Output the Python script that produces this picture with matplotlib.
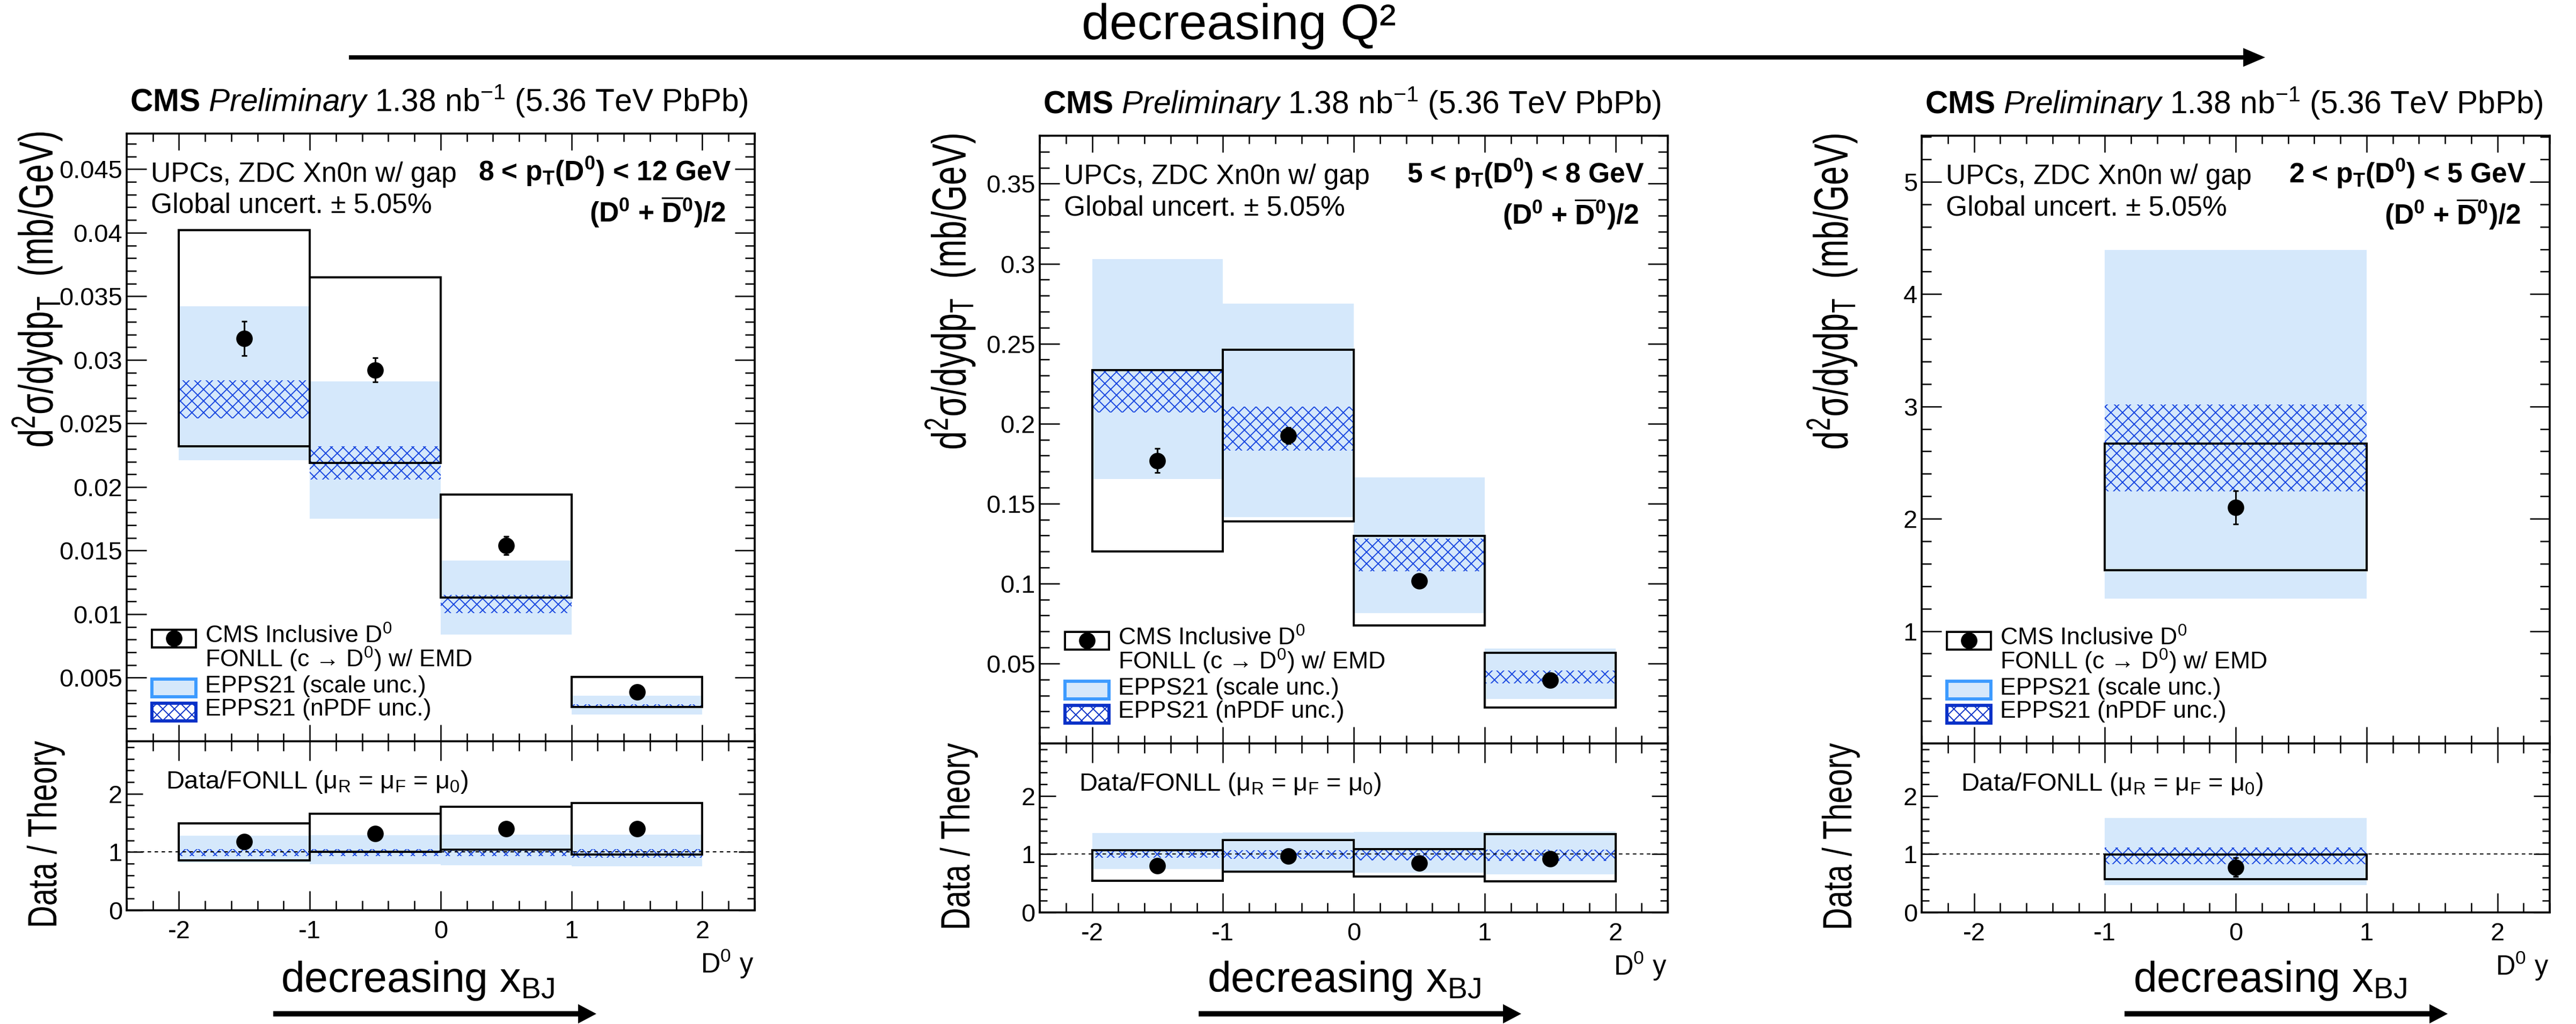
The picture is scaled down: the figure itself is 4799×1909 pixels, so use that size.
import numpy as np
import matplotlib
matplotlib.use("Agg")
import matplotlib.pyplot as plt
from matplotlib.ticker import MultipleLocator, FuncFormatter
from matplotlib.patches import Rectangle, PathPatch, FancyArrow
from matplotlib.textpath import TextPath
from matplotlib.transforms import Affine2D
from matplotlib.lines import Line2D

plt.rcParams['font.family'] = ['Liberation Sans', 'DejaVu Sans']
plt.rcParams['mathtext.fontset'] = 'custom'
plt.rcParams['mathtext.rm'] = 'Liberation Sans'
plt.rcParams['mathtext.it'] = 'Liberation Sans:italic'
plt.rcParams['mathtext.bf'] = 'Liberation Sans:bold'
plt.rcParams['mathtext.default'] = 'regular'
plt.rcParams['axes.unicode_minus'] = False
plt.rcParams['hatch.linewidth'] = 1.1

# ---------------- data ----------------
pt_labels = [r"8 < p$_{\mathbf{T}}$(D$^{\mathbf{0}}$) < 12 GeV",
             r"5 < p$_{\mathbf{T}}$(D$^{\mathbf{0}}$) < 8 GeV",
             r"2 < p$_{\mathbf{T}}$(D$^{\mathbf{0}}$) < 5 GeV"]
y_edges = [[-2, -1, 0, 1, 2], [-2, -1, 0, 1, 2], [-1, 1]]

# 8 < pT < 12 GeV
data1 = [0.0317, 0.0292, 0.0154, 0.0039]
stat1 = [0.00135, 0.00095, 0.0007, 0.0003]
syst_lo1 = [0.0232, 0.0219, 0.0113, 0.0027]
syst_hi1 = [0.0402, 0.0365, 0.0194, 0.00505]
scale_lo1 = [0.0221, 0.0175, 0.0084, 0.0021]
scale_hi1 = [0.0342, 0.0283, 0.0142, 0.0036]
npdf_lo1 = [0.0254, 0.0206, 0.0101, 0.0026]
npdf_hi1 = [0.0284, 0.0232, 0.0115, 0.0029]
r_data1 = [1.18, 1.32, 1.40, 1.40]
r_err1 = [0.05, 0.04, 0.06, 0.06]
r_syst_lo1 = [0.86, 1.00, 1.04, 0.96]
r_syst_hi1 = [1.49, 1.66, 1.78, 1.84]
r_scale_lo1 = [0.82, 0.79, 0.77, 0.755]
r_scale_hi1 = [1.28, 1.29, 1.30, 1.30]
r_npdf_lo1 = [0.93, 0.93, 0.93, 0.90]
r_npdf_hi1 = [1.05, 1.05, 1.05, 1.05]

# 5 < pT < 8 GeV
data2 = [0.1768, 0.1926, 0.1016, 0.0396]
stat2 = [0.0075, 0.005, 0.0025, 0.002]
syst_lo2 = [0.120, 0.139, 0.0739, 0.0226]
syst_hi2 = [0.2334, 0.2463, 0.1297, 0.0567]
scale_lo2 = [0.1653, 0.1416, 0.0815, 0.0277]
scale_hi2 = [0.303, 0.275, 0.1662, 0.0592]
npdf_lo2 = [0.207, 0.183, 0.1076, 0.0374]
npdf_hi2 = [0.2334, 0.2107, 0.1281, 0.0456]
r_data2 = [0.80, 0.967, 0.85, 0.925]
r_err2 = [0.04, 0.03, 0.03, 0.05]
r_syst_lo2 = [0.54, 0.70, 0.62, 0.53]
r_syst_hi2 = [1.066, 1.246, 1.085, 1.34]
r_scale_lo2 = [0.744, 0.695, 0.68, 0.652]
r_scale_hi2 = [1.367, 1.374, 1.384, 1.393]
r_npdf_lo2 = [0.94, 0.925, 0.89, 0.88]
r_npdf_hi2 = [1.056, 1.066, 1.07, 1.08]

# 2 < pT < 5 GeV
data3 = [2.102]
stat3 = [0.148]
syst_lo3 = [1.54]
syst_hi3 = [2.668]
scale_lo3 = [1.288]
scale_hi3 = [4.392]
npdf_lo3 = [2.243]
npdf_hi3 = [3.019]
r_data3 = [0.777]
r_err3 = [0.16]
r_syst_lo3 = [0.57]
r_syst_hi3 = [0.99]
r_scale_lo3 = [0.472]
r_scale_hi3 = [1.62]
r_npdf_lo3 = [0.826]
r_npdf_hi3 = [1.11]

panels = [
    (data1, stat1, syst_lo1, syst_hi1, scale_lo1, scale_hi1, npdf_lo1, npdf_hi1,
     r_data1, r_err1, r_syst_lo1, r_syst_hi1, r_scale_lo1, r_scale_hi1, r_npdf_lo1, r_npdf_hi1),
    (data2, stat2, syst_lo2, syst_hi2, scale_lo2, scale_hi2, npdf_lo2, npdf_hi2,
     r_data2, r_err2, r_syst_lo2, r_syst_hi2, r_scale_lo2, r_scale_hi2, r_npdf_lo2, r_npdf_hi2),
    (data3, stat3, syst_lo3, syst_hi3, scale_lo3, scale_hi3, npdf_lo3, npdf_hi3,
     r_data3, r_err3, r_syst_lo3, r_syst_hi3, r_scale_lo3, r_scale_hi3, r_npdf_lo3, r_npdf_hi3),
]
y_max = [0.0478, 0.380, 5.41]
y_major = [0.005, 0.05, 1.0]
y_minor = [0.001, 0.01, 0.2]

# ---------------- layout (pixels of the 4799x1909 picture) ----------------
W, H, DPI = 4799, 1909, 130
fig = plt.figure(figsize=(W / DPI, H / DPI), dpi=DPI, facecolor='white')
px = Affine2D().scale(1.0 / W, 1.0 / H) + fig.transFigure   # pixel coords, origin bottom-left

ax_left = [236, 1937, 3580]
ax_top = [249, 253, 253]
ax_w, up_h, rat_h = 1170, 1133, 315
xbj_x = [523, 2249, 3974]
arrow_x0 = [509, 2233, 3958]
arrow_x1 = [1111, 2834, 4560]

SCALE_FILL = '#d5e8fb'
SCALE_EDGE = '#3d9bff'
NPDF_COL = '#1a48e0'
NPDF_EDGE = '#0a32c8'


def ftext(x, y, s, **kw):
    return fig.text(x / W, 1 - y / H, s, **kw)


def path_text(s, x, y, length, stretch, rot=0, anchor='center'):
    tp = TextPath((0, 0), s, size=100)
    bb = tp.get_extents()
    a = {'start': bb.x0, 'center': (bb.x0 + bb.x1) / 2, 'end': bb.x1}[anchor]
    k = length / bb.width
    tr = Affine2D().translate(-a, 0).scale(k, k * stretch).rotate_deg(rot).translate(x, H - y)
    fig.add_artist(PathPatch(tr.transform_path(tp), facecolor='black', edgecolor='none', transform=px))


def draw_bins(ax, edges, lo, hi, **kw):
    e = np.asarray(edges, float)
    ax.bar((e[:-1] + e[1:]) / 2, np.subtract(hi, lo), bottom=lo, width=np.diff(e), align='center', **kw)


def draw_set(ax, edges, val, err, slo, shi, sclo, schi, nlo, nhi):
    draw_bins(ax, edges, sclo, schi, color=SCALE_FILL, linewidth=0, zorder=1)
    draw_bins(ax, edges, nlo, nhi, facecolor='none', edgecolor=NPDF_COL, hatch='xx', linewidth=0, zorder=2)
    draw_bins(ax, edges, slo, shi, fill=False, edgecolor='black', linewidth=2.2, zorder=3)
    e = np.asarray(edges, float)
    ax.errorbar((e[:-1] + e[1:]) / 2, val, yerr=err, fmt='o', ms=16, color='black',
                elinewidth=1.7, capsize=2.8, capthick=1.7, zorder=5)


def style_axis(ax):
    for sp in ax.spines.values():
        sp.set_linewidth(2.0)
    ax.set_xlim(-2.4, 2.4)
    ax.xaxis.set_major_locator(MultipleLocator(1))
    ax.xaxis.set_minor_locator(MultipleLocator(0.2))
    ax.tick_params(which='both', direction='in', top=True, right=True, width=1.4, labelsize=26)


for i, p in enumerate(panels):
    (val, err, slo, shi, sclo, schi, nlo, nhi,
     rval, rerr, rslo, rshi, rsclo, rschi, rnlo, rnhi) = p
    l, t = ax_left[i], ax_top[i]
    b = t + up_h
    rb = b + rat_h
    ax = fig.add_axes([l / W, 1 - b / H, ax_w / W, up_h / H])
    axr = fig.add_axes([l / W, 1 - rb / H, ax_w / W, rat_h / H])

    # upper pad
    draw_set(ax, y_edges[i], val, err, slo, shi, sclo, schi, nlo, nhi)
    style_axis(ax)
    ax.set_ylim(0, y_max[i])
    ax.yaxis.set_major_locator(MultipleLocator(y_major[i]))
    ax.yaxis.set_minor_locator(MultipleLocator(y_minor[i]))
    ax.yaxis.set_major_formatter(FuncFormatter(lambda v, pos: '' if abs(v) < 1e-9 else f"{v:g}"))
    ax.tick_params(axis='x', labelbottom=False)
    ax.tick_params(axis='x', which='major', length=17)
    ax.tick_params(axis='x', which='minor', length=8.3)
    ax.tick_params(axis='y', which='major', length=20.5, pad=4.5)
    ax.tick_params(axis='y', which='minor', length=9.7)

    # ratio pad
    draw_set(axr, y_edges[i], rval, rerr, rslo, rshi, rsclo, rschi, rnlo, rnhi)
    axr.axhline(1.0, color='black', lw=1.2, ls=(0, (3, 3)), zorder=4)
    style_axis(axr)
    axr.set_ylim(0, 2.9)
    axr.yaxis.set_major_locator(MultipleLocator(1))
    axr.yaxis.set_minor_locator(MultipleLocator(0.2))
    axr.tick_params(axis='x', which='major', length=20, pad=10)
    axr.tick_params(axis='x', which='minor', length=10)
    axr.tick_params(axis='y', which='major', length=16.7, pad=4.5)
    axr.tick_params(axis='y', which='minor', length=8)

    # header and labels
    ftext(l + ax_w - 12, t - 41,
          r"$\mathbf{CMS}$ $\mathit{Preliminary}$ 1.38 nb$^{-1}$ (5.36 TeV PbPb)",
          ha='right', va='baseline', fontsize=32.5)
    ftext(l + 45, t + 90, "UPCs, ZDC Xn0n w/ gap", va='baseline', fontsize=28.5)
    ftext(l + 45, t + 148, "Global uncert. \u00b1 5.05%", va='baseline', fontsize=28.5)
    ftext(l + ax_w - 44, t + 88, pt_labels[i], ha='right', va='baseline',
          fontsize=28.5, fontweight='bold')
    ftext(l + ax_w - 54, t + 165, r"(D$^{\mathbf{0}}$ + $\overline{\mathbf{D}}^{\mathbf{0}}$)/2",
          ha='right', va='baseline', fontsize=28.5, fontweight='bold')
    ftext(l + 73, b + 88, "Data/FONLL (\u03bc$_{R}$ = \u03bc$_{F}$ = \u03bc$_{0}$)",
          va='baseline', fontsize=26)
    ftext(l + ax_w - 2, rb + 117, "D$^{0}$ y", ha='right', va='baseline', fontsize=28)

    path_text("d$^{2}$\u03c3/dydp$_{T}$  (mb/GeV)", l - 138, t - 2, 585, 1.42, rot=90, anchor='end')
    path_text("Data / Theory", l - 131, (b + rb) / 2 + 14, 344, 1.32, rot=90, anchor='center')

    # legend
    sx0, sw, sh = l + 47, 82, 33
    fig.add_artist(Rectangle((sx0, H - (b - 192) - sh / 2), sw, sh, facecolor='white',
                             edgecolor='black', lw=2.2, transform=px))
    fig.add_artist(Line2D([sx0 + sw / 2], [H - (b - 192)], marker='o', ms=16, color='black',
                          transform=px))
    fig.add_artist(Rectangle((sx0, H - (b - 100) - sh / 2), sw, sh, facecolor=SCALE_FILL,
                             edgecolor=SCALE_EDGE, lw=3.3, transform=px))
    fig.add_artist(Rectangle((sx0, H - (b - 55) - sh / 2), sw, sh, facecolor='white',
                             edgecolor=NPDF_EDGE, hatch='xx', lw=3.3, transform=px))
    tx = l + 146
    ftext(tx, b - 183, "CMS Inclusive D$^{0}$", va='baseline', fontsize=24.7)
    ftext(tx, b - 138, "FONLL (c \u2192 D$^{0}$) w/ EMD", va='baseline', fontsize=24.7)
    ftext(tx, b - 91, "EPPS21 (scale unc.)", va='baseline', fontsize=24.7)
    ftext(tx, b - 48, "EPPS21 (nPDF unc.)", va='baseline', fontsize=24.7)

    # decreasing x_BJ annotation
    ftext(xbj_x[i], 1849, "decreasing x$_{BJ}$", va='baseline', fontsize=43.7)
    fig.add_artist(FancyArrow(arrow_x0[i], H - 1890, arrow_x1[i] - arrow_x0[i], 0, width=10,
                              head_width=36, head_length=34, length_includes_head=True,
                              color='black', lw=0, transform=px))

# decreasing Q^2 annotation on top
path_text("decreasing Q\u00b2", 2309, 73, 580, 1.0, rot=0, anchor='center')
fig.add_artist(FancyArrow(650, H - 107, 4220 - 650, 0, width=8, head_width=35, head_length=41,
                          length_includes_head=True, color='black', lw=0, transform=px))

fig.savefig("out.png", dpi=DPI, facecolor='white')
